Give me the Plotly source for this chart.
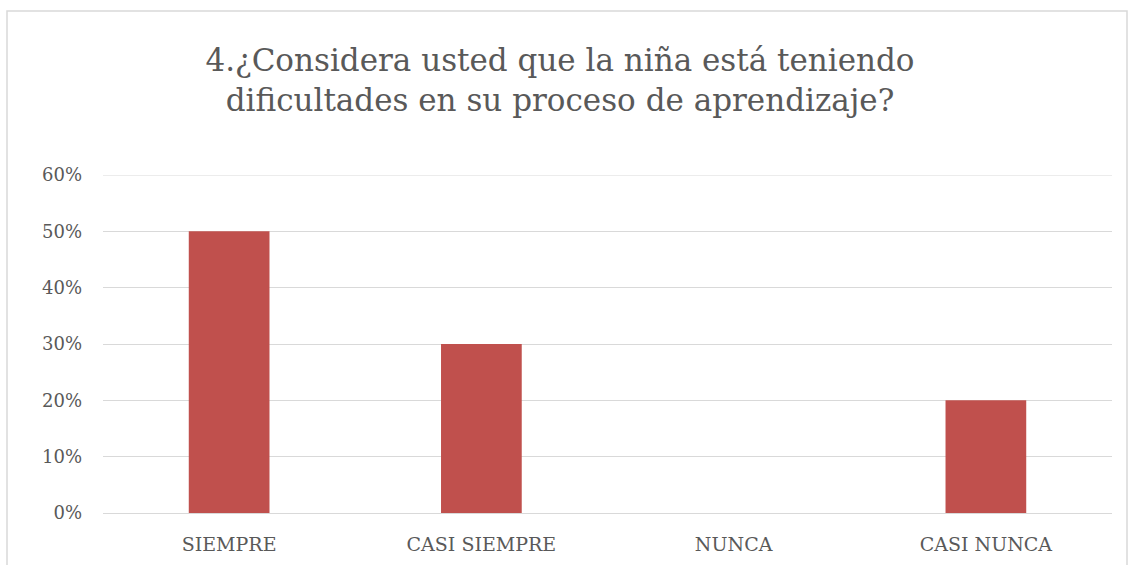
import plotly.graph_objects as go

categories = ["SIEMPRE", "CASI SIEMPRE", "NUNCA", "CASI NUNCA"]
values = [0.50, 0.30, 0.0, 0.20]
y_ticks = [0, 0.1, 0.2, 0.3, 0.4, 0.5, 0.6]
y_tick_labels = ["0%", "10%", "20%", "30%", "40%", "50%", "60%"]
title_text = "4.¿Considera usted que la niña está teniendo<br>dificultades en su proceso de aprendizaje?"

W, H = 1131, 565
L, R, T, B = 103, 19, 175, 52
pw, ph = W - L - R, H - T - B

fig = go.Figure(go.Bar(x=categories, y=values, marker=dict(color="#C0504D", line=dict(width=0))))

font_family = "DejaVu Serif, Liberation Serif, serif"
fig.update_layout(
    width=W, height=H,
    margin=dict(l=L, r=R, t=T, b=B, autoexpand=False),
    paper_bgcolor="white", plot_bgcolor="white",
    bargap=0.68,
    showlegend=False,
    title=dict(text=title_text, x=560 / W, xanchor="center", y=1 - 71 / H, yanchor="top",
               font=dict(family=font_family, size=31, color="#595959")),
    font=dict(family=font_family, size=19, color="#595959"),
    xaxis=dict(showgrid=False, showline=False, ticks="", ticklabelstandoff=18,
               tickfont=dict(size=19, color="#595959")),
    yaxis=dict(range=[0, max(y_ticks)], tickvals=y_ticks, ticktext=y_tick_labels, showgrid=True,
               gridcolor="#D9D9D9", gridwidth=1, zeroline=True, zerolinecolor="#D9D9D9",
               zerolinewidth=1, showline=False, ticks="", ticklabelstandoff=20,
               tickfont=dict(size=18, color="#595959")),
    shapes=[dict(type="rect", xref="paper", yref="paper",
                 x0=(7 - L) / pw, x1=(1127 - L) / pw,
                 y0=(H - B - 575) / ph, y1=(H - B - 11) / ph,
                 line=dict(color="#D9D9D9", width=1.5), fillcolor="rgba(0,0,0,0)", layer="below"),
            dict(type="line", xref="paper", yref="y", x0=0, x1=1, y0=max(y_ticks), y1=max(y_ticks),
                 line=dict(color="#D9D9D9", width=1), layer="below")],
)

fig.write_html("out.html", config={"displayModeBar": False},
               post_script="document.body.style.margin='0';document.body.style.overflow='hidden';")
